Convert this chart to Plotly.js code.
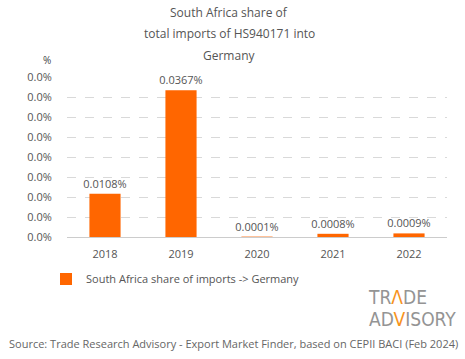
<!DOCTYPE html>
<html><head><meta charset="utf-8">
<script src="https://cdn.plot.ly/plotly-3.0.1.min.js"></script>
<style>html,body{margin:0;padding:0;background:#fff}#chart{width:465px;height:359px}</style>
</head><body><div id="chart"></div>
<script>
const years = ['2018', '2019', '2020', '2021', '2022'];
const shareValues = [0.000108, 0.000367, 0.000001, 0.000008, 0.000009];
const valueLabels = ['0.0108%', '0.0367%', '0.0001%', '0.0008%', '0.0009%'];
const seriesName = 'South Africa share of imports -> Germany';
const titleLines = ['South Africa share of', 'total imports of HS940171 into', 'Germany'];
const sourceText = 'Source: Trade Research Advisory - Export Market Finder, based on CEPII BACI (Feb 2024)';

const FONT = 'Open Sans, sans-serif';
const GREY = '#666';
const ORANGE = '#ff6600';

const trace = {
  type: 'bar', x: years, y: shareValues, name: seriesName,
  marker: {color: ORANGE},
  text: valueLabels, textposition: 'outside', cliponaxis: false,
  textfont: {family: FONT, size: 11, color: '#555'},
  constraintext: 'none',
  hoverinfo: 'skip'
};

const titleY = [12, 33, 55];
const annotations = titleLines.map((t, i) => ({
  text: t, xref: 'paper', yref: 'paper', x: (229 - 67) / 380, y: (237 - titleY[i]) / 160,
  xanchor: 'center', yanchor: 'middle', showarrow: false,
  font: {family: FONT, size: 12, color: '#555'}
}));
annotations.push({text: '%', xref: 'paper', yref: 'paper', x: (47 - 67) / 380, y: (237 - 60) / 160,
  xanchor: 'center', yanchor: 'middle', showarrow: false, font: {family: FONT, size: 10, color: '#444'}});
annotations.push({text: sourceText, xref: 'paper', yref: 'paper', x: (233 - 67) / 380, y: (237 - 343) / 160,
  xanchor: 'center', yanchor: 'middle', showarrow: false, font: {family: FONT, size: 11, color: GREY}});
const LOGO_FONT = {family: 'DejaVu Sans Condensed, sans-serif', size: 19, color: '#949494'};
annotations.push({text: 'TR<span style="color:#f7931e">Λ</span>DE', xref: 'paper', yref: 'paper',
  x: (366 - 67) / 380, y: (237 - 297) / 160, xanchor: 'left', yanchor: 'middle', showarrow: false,
  font: LOGO_FONT});
annotations.push({text: 'AD<span style="color:#f7931e">V</span>ISORY', xref: 'paper', yref: 'paper',
  x: (367 - 67) / 380, y: (237 - 319) / 160, xanchor: 'left', yanchor: 'middle', showarrow: false,
  font: LOGO_FONT});

const layout = {
  width: 465, height: 359,
  margin: {l: 67, r: 18, t: 77, b: 122},
  paper_bgcolor: '#fff', plot_bgcolor: '#fff',
  bargap: 0.59,
  showlegend: true,
  legend: {orientation: 'h', x: (46 - 67) / 380, xanchor: 'left', y: (237 - 279) / 160, yanchor: 'middle',
    font: {family: FONT, size: 11, color: '#555'}, itemwidth: 30},
  xaxis: {type: 'category', showline: false, showgrid: false,
    ticks: 'outside', ticklen: 7, tickcolor: 'rgba(0,0,0,0)',
    tickfont: {family: FONT, size: 11, color: '#555'}},
  yaxis: {range: [0, 0.0004], dtick: 0.00005, tick0: 0, tickformat: '.1%',
    showgrid: true, gridcolor: '#d9d9d9', griddash: 'dash', gridwidth: 1,
    zeroline: true, zerolinecolor: '#cccccc', zerolinewidth: 1,
    ticks: 'outside', ticklen: 12, tickcolor: 'rgba(0,0,0,0)',
    tickfont: {family: FONT, size: 11, color: '#555'}},
  annotations: annotations
};
Plotly.newPlot('chart', [trace], layout, {displayModeBar: false, staticPlot: true});
</script></body></html>
